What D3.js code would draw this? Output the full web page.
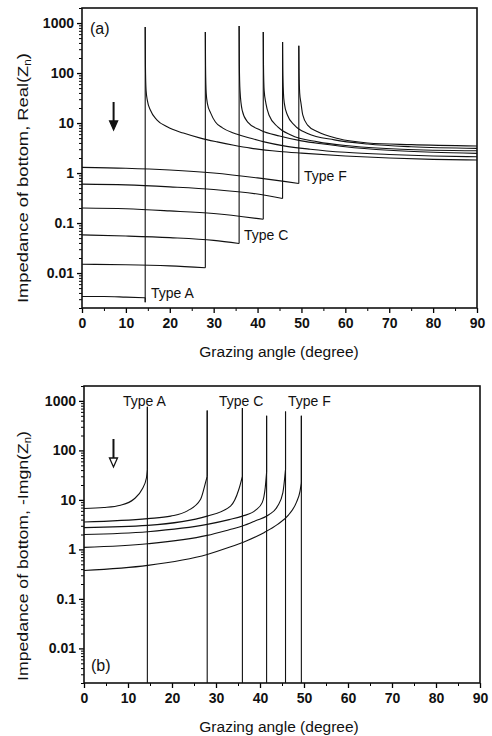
<!DOCTYPE html>
<html>
<head>
<meta charset="utf-8">
<script src="https://cdn.jsdelivr.net/npm/d3@7"></script>
<style>
  html, body { margin: 0; padding: 0; background: #fff; }
  svg { display: block; font-family: "Liberation Sans", Arial, sans-serif; }
</style>
</head>
<body>
<svg id="chart" width="492" height="736"></svg>
<script>
const typeNames = ['A', 'B', 'C', 'D', 'E', 'F'];
const xTicks = [0, 10, 20, 30, 40, 50, 60, 70, 80, 90];
const yTicks = [0.01, 0.1, 1, 10, 100, 1000];
const yTickLabels = ['0.01', '0.1', '1', '10', '100', '1000'];

// (a) Real(Zn): [grazing angle, value]
const realA = [[0,0.0034],[5,0.0034],[10,0.0033],[14.4,0.0032],[14.4,0.0026],[14.4,830],[14.45,150],[14.6,45],[14.9,28],[15.6,18],[17.1,11.5],[19.4,8.4],[23.1,6.3],[27,5.0],[30.8,4.2],[34.6,3.6],[38.4,3.15],[45,2.7],[50,2.5],[60,2.2],[70,2.0],[80,1.88],[90,1.82]];
const realB = [[0,0.015],[10,0.0147],[20,0.0139],[28.1,0.0128],[28.1,660],[28.15,140],[28.3,40],[28.6,24],[29.3,16],[30.4,10.5],[32,8],[34.5,6.3],[38,5.1],[41.5,4.2],[46,3.5],[52,3.0],[60,2.6],[70,2.35],[80,2.2],[90,2.12]];
const realC = [[0,0.058],[10,0.055],[20,0.051],[30,0.045],[35.8,0.039],[35.8,870],[35.85,150],[36,45],[36.5,18],[37.7,10.6],[40.7,7.2],[45,5.5],[50,4.4],[55,3.8],[60,3.35],[70,2.85],[80,2.6],[90,2.47]];
const realD = [[0,0.2],[10,0.193],[20,0.175],[30,0.155],[41.3,0.119],[41.3,660],[41.35,150],[41.5,45],[41.9,24.8],[42.6,14.5],[44.6,8.4],[47.6,5.75],[53.7,4.2],[61.3,3.47],[72.8,3.0],[90,2.79]];
const realE = [[0,0.6],[10,0.58],[20,0.53],[30,0.47],[40,0.38],[45.7,0.31],[45.7,420],[45.75,120],[45.9,40],[46.1,24.8],[46.8,14.5],[48.4,9.1],[51.4,6.2],[57.5,4.6],[65.1,3.8],[75,3.35],[90,3.11]];
const realF = [[0,1.3],[10,1.25],[20,1.15],[30,1.0],[40,0.8],[49.4,0.62],[49.4,350],[49.45,110],[49.6,40],[49.9,24.8],[50.3,14.5],[51.4,9.1],[53.7,6.7],[58.3,4.9],[65.1,4.0],[75,3.7],[90,3.47]];

// (b) -Imag(Zn): [grazing angle, value]; 0 past the critical angle
const imagA = [[0,6.7],[4.5,7.0],[8.3,7.8],[11.3,10.3],[13.2,16.4],[14.2,28],[14.4,41],[14.4,760],[14.4,0]];
const imagB = [[0,3.57],[14.5,4.18],[19.7,4.7],[23.5,6.0],[26.5,10.3],[27.6,22],[28.0,30],[28.0,640],[28.0,0]];
const imagC = [[0,2.75],[14.5,3.06],[28,4.7],[33.3,7.5],[35.2,16.4],[36.0,30],[36.0,720],[36.0,0]];
const imagD = [[0,2.0],[14.5,2.28],[28,3.2],[33,4.0],[36,4.7],[39,6.2],[40.5,8.8],[41.2,18],[41.5,36],[41.5,500],[41.5,0]];
const imagE = [[0,1.1],[14.5,1.3],[28,1.92],[33,2.5],[36,2.96],[39,3.8],[42,5.0],[44,7.5],[45.2,14],[45.8,41],[45.8,610],[45.8,0]];
const imagF = [[0,0.376],[14.5,0.475],[28,0.79],[33,1.1],[37,1.5],[41,2.2],[44,3.2],[46.5,5.0],[48.3,9],[49.1,15],[49.4,22],[49.4,500],[49.4,0]];

const realSeries = [realA, realB, realC, realD, realE, realF];
const imagSeries = [imagA, imagB, imagC, imagD, imagE, imagF];

const svg = d3.select('#chart');
const yDomain = [0.002, 2000];

// Split a series into runs of increasing x; equal x means a vertical jump
function runs(pts) {
  const out = [];
  let cur = [pts[0]];
  for (let i = 1; i < pts.length; i++) {
    if (pts[i][0] === pts[i - 1][0]) {
      out.push(cur);
      out.push([pts[i - 1], pts[i]]);
      cur = [pts[i]];
    } else {
      cur.push(pts[i]);
    }
  }
  out.push(cur);
  return out.filter(r => r.length > 1);
}

function drawPanel(opt) {
  const { left, right, top, bottom, series, yTitle, tag, tagPos, titleY, arrow, labels } = opt;
  const g = svg.append('g');

  const x = d3.scaleLinear().domain([0, 90]).range([left, right]);
  const y = d3.scaleLog().domain(yDomain).range([bottom, top]).clamp(true);

  const line = d3.line()
    .x(d => x(d[0]))
    .y(d => y(Math.max(d[1], yDomain[0])))
    .curve(d3.curveMonotoneX);

  const clipId = 'clip-' + tag;
  g.append('clipPath').attr('id', clipId)
    .append('rect').attr('x', left).attr('y', top)
    .attr('width', right - left).attr('height', bottom - top);

  const curves = g.append('g').attr('clip-path', `url(#${clipId})`);
  series.forEach(s => {
    runs(s).forEach(r => {
      curves.append('path')
        .attr('d', line(r))
        .attr('fill', 'none')
        .attr('stroke', '#111')
        .attr('stroke-width', 1.1);
    });
  });

  // Y axis (log) with minor ticks
  const minor = [];
  for (let e = -3; e <= 3; e++) {
    for (let m = 2; m <= 9; m++) {
      const v = m * Math.pow(10, e);
      if (v >= yDomain[0] && v <= yDomain[1]) minor.push(v);
    }
  }
  const yAxis = d3.axisLeft(y).tickValues(yTicks)
    .tickFormat((d, i) => yTickLabels[i]).tickSize(5).tickPadding(3);
  const ya = g.append('g').attr('transform', `translate(${left},0)`).call(yAxis);
  ya.select('.domain').remove();
  ya.selectAll('.tick text').attr('font-size', 14).attr('font-weight', 'bold').attr('fill', '#111');
  ya.selectAll('.tick line').attr('stroke-width', 1.3);
  g.append('g').attr('transform', `translate(${left},0)`)
    .call(d3.axisLeft(y).tickValues(minor).tickFormat('').tickSize(3))
    .call(a => a.select('.domain').remove());

  // X axis
  const xAxis = d3.axisBottom(x).tickValues(xTicks).tickSize(5).tickPadding(5);
  const xa = g.append('g').attr('transform', `translate(0,${bottom})`).call(xAxis);
  xa.select('.domain').remove();
  xa.selectAll('.tick text').attr('font-size', 14).attr('font-weight', 'bold').attr('fill', '#111');
  xa.selectAll('.tick line').attr('stroke-width', 1.3);
  g.append('g').attr('transform', `translate(0,${bottom})`)
    .call(d3.axisBottom(x).tickValues(d3.range(5, 90, 10)).tickFormat('').tickSize(3))
    .call(a => a.select('.domain').remove());

  // Frame
  g.append('rect')
    .attr('x', left).attr('y', top)
    .attr('width', right - left).attr('height', bottom - top)
    .attr('fill', 'none').attr('stroke', '#111').attr('stroke-width', 1.6);

  // Titles
  g.append('text')
    .attr('x', 279).attr('y', bottom + 49)
    .attr('text-anchor', 'middle').attr('font-size', 15.5).attr('fill', '#111')
    .text('Grazing angle (degree)');

  const yt = g.append('text')
    .attr('transform', `translate(28,${titleY}) rotate(-90)`)
    .attr('text-anchor', 'middle').attr('font-size', 15.5).attr('fill', '#111')
    .attr('textLength', 250).attr('lengthAdjust', 'spacingAndGlyphs');
  yt.append('tspan').text(yTitle + '(Z');
  yt.append('tspan').attr('font-size', 10).attr('dy', 3).text('n');
  yt.append('tspan').attr('dy', -3).text(')');

  g.append('text')
    .attr('x', tagPos[0]).attr('y', tagPos[1])
    .attr('font-size', 16).attr('fill', '#111').text(`(${tag})`);

  // Type labels
  labels.forEach(l => {
    g.append('text')
      .attr('x', l.x).attr('y', l.y)
      .attr('font-size', 14).attr('fill', '#111')
      .text('Type ' + l.t);
  });

  // Arrow
  const ax = x(arrow.at);
  g.append('line')
    .attr('x1', ax).attr('x2', ax)
    .attr('y1', arrow.y0).attr('y2', arrow.y1 - 8)
    .attr('stroke', '#111').attr('stroke-width', 2);
  g.append('path')
    .attr('d', `M${ax - 4},${arrow.y1 - 9} L${ax + 4},${arrow.y1 - 9} L${ax},${arrow.y1} Z`)
    .attr('fill', arrow.open ? '#fff' : '#111')
    .attr('stroke', '#111').attr('stroke-width', 1.3);
}

drawPanel({
  left: 82, right: 477, top: 8, bottom: 308,
  series: realSeries,
  yTitle: 'Impedance of bottom, Real',
  tag: 'a', tagPos: [90, 34], titleY: 178,
  arrow: { at: 7.2, y0: 102, y1: 130, open: false },
  labels: [
    { t: typeNames[0], x: 151, y: 298 },
    { t: typeNames[2], x: 244, y: 240 },
    { t: typeNames[5], x: 304, y: 181 }
  ]
});

drawPanel({
  left: 84, right: 480, top: 386, bottom: 683,
  series: imagSeries,
  yTitle: 'Impedance of bottom, -Imgn',
  tag: 'b', tagPos: [91, 671], titleY: 556,
  arrow: { at: 6.7, y0: 439, y1: 467, open: true },
  labels: [
    { t: typeNames[0], x: 123, y: 406 },
    { t: typeNames[2], x: 219, y: 406 },
    { t: typeNames[5], x: 288, y: 406 }
  ]
});
</script>
</body>
</html>
